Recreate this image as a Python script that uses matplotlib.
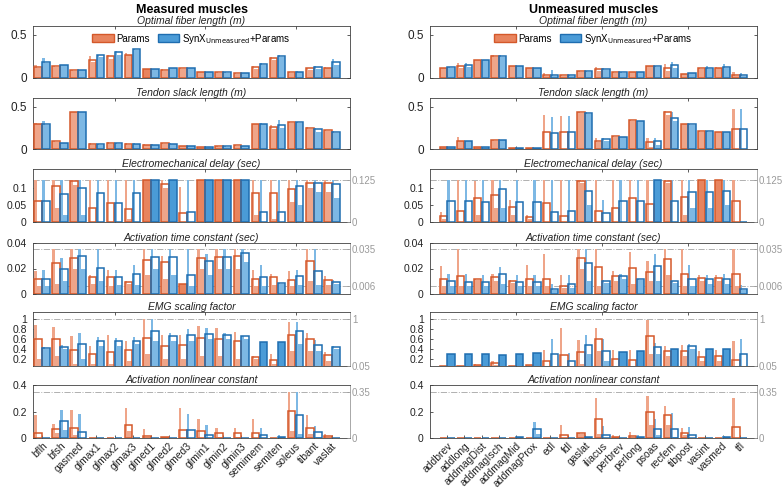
import matplotlib
matplotlib.use('Agg')
import matplotlib.pyplot as plt
from matplotlib.patches import Patch

plt.rcParams['font.family'] = ['Liberation Sans', 'DejaVu Sans']

# ---------------- categories ----------------
left_muscles = ['bflh', 'bfsh', 'gasmed', 'glmax1', 'glmax2', 'glmax3', 'glmed1', 'glmed2',
                'glmed3', 'glmin1', 'glmin2', 'glmin3', 'semimem', 'semiten', 'soleus',
                'tibant', 'vaslat']
right_muscles = ['addbrev', 'addlong', 'addmagDist', 'addmagIsch', 'addmagMid', 'addmagProx',
                 'edl', 'fdl', 'gaslat', 'iliacus', 'perbrev', 'perlong', 'psoas', 'recfem',
                 'tibpost', 'vasint', 'vasmed', 'tfl']

panel_titles = ['Optimal fiber length (m)', 'Tendon slack length (m)',
                'Electromechanical delay (sec)', 'Activation time constant (sec)',
                'EMG scaling factor', 'Activation nonlinear constant']
bounds = [None, None, (0, 0.125), (0.006, 0.035), (0.05, 1), (0, 0.35)]

# ---------------- Measured muscles (left) ----------------
# mean = outlined bar, hi = largest subject value, lo = smallest subject value
L_fiber_p = [0.13, 0.14, 0.087, 0.21, 0.25, 0.27, 0.10, 0.09, 0.11, 0.07, 0.065, 0.055, 0.13, 0.23, 0.065, 0.11, 0.12]
L_fiber_p_hi = [0.15, 0.14, 0.09, 0.25, 0.27, 0.29, 0.10, 0.10, 0.11, 0.07, 0.065, 0.055, 0.14, 0.24, 0.07, 0.12, 0.13]
L_fiber_p_lo = [0.11, 0.13, 0.08, 0.18, 0.22, 0.26, 0.10, 0.085, 0.105, 0.065, 0.06, 0.05, 0.10, 0.21, 0.06, 0.09, 0.11]
L_fiber_s = [0.19, 0.15, 0.095, 0.265, 0.30, 0.33, 0.105, 0.115, 0.12, 0.075, 0.065, 0.06, 0.16, 0.255, 0.075, 0.125, 0.18]
L_fiber_s_hi = [0.23, 0.15, 0.095, 0.27, 0.31, 0.34, 0.105, 0.12, 0.12, 0.075, 0.065, 0.06, 0.17, 0.26, 0.08, 0.14, 0.22]
L_fiber_s_lo = [0.17, 0.145, 0.09, 0.24, 0.27, 0.32, 0.10, 0.11, 0.115, 0.07, 0.06, 0.055, 0.15, 0.24, 0.07, 0.10, 0.15]

L_tendon_p = [0.30, 0.09, 0.44, 0.06, 0.065, 0.06, 0.05, 0.065, 0.04, 0.02, 0.03, 0.045, 0.30, 0.26, 0.32, 0.25, 0.22]
L_tendon_p_hi = [0.31, 0.10, 0.44, 0.07, 0.08, 0.07, 0.055, 0.065, 0.04, 0.02, 0.03, 0.045, 0.30, 0.28, 0.32, 0.26, 0.22]
L_tendon_p_lo = [0.29, 0.08, 0.43, 0.05, 0.055, 0.05, 0.045, 0.06, 0.035, 0.018, 0.028, 0.04, 0.29, 0.24, 0.31, 0.23, 0.21]
L_tendon_s = [0.295, 0.075, 0.435, 0.055, 0.065, 0.06, 0.05, 0.06, 0.04, 0.02, 0.03, 0.035, 0.30, 0.28, 0.32, 0.23, 0.20]
L_tendon_s_hi = [0.33, 0.075, 0.44, 0.055, 0.075, 0.065, 0.055, 0.065, 0.04, 0.02, 0.03, 0.035, 0.31, 0.34, 0.32, 0.25, 0.21]
L_tendon_s_lo = [0.28, 0.07, 0.43, 0.05, 0.06, 0.055, 0.045, 0.055, 0.035, 0.018, 0.028, 0.03, 0.29, 0.25, 0.31, 0.20, 0.19]

L_emd_p = [0.062, 0.107, 0.12, 0.04, 0.056, 0.038, 0.125, 0.113, 0.027, 0.125, 0.125, 0.125, 0.085, 0.087, 0.098, 0.117, 0.115]
L_emd_p_hi = [0.125, 0.125, 0.125, 0.125, 0.125, 0.125, 0.125, 0.125, 0.105, 0.125, 0.125, 0.125, 0.125, 0.125, 0.125, 0.125, 0.125]
L_emd_p_lo = [0.0, 0.04, 0.11, 0.0, 0.0, 0.01, 0.125, 0.10, 0.0, 0.125, 0.125, 0.125, 0.02, 0.01, 0.06, 0.10, 0.09]
L_emd_s = [0.062, 0.082, 0.102, 0.085, 0.056, 0.085, 0.125, 0.125, 0.03, 0.125, 0.125, 0.125, 0.03, 0.03, 0.108, 0.117, 0.113]
L_emd_s_hi = [0.125, 0.125, 0.125, 0.125, 0.125, 0.125, 0.125, 0.125, 0.125, 0.125, 0.125, 0.125, 0.125, 0.125, 0.125, 0.125, 0.125]
L_emd_s_lo = [0.0, 0.02, 0.02, 0.0, 0.0, 0.0, 0.125, 0.125, 0.0, 0.125, 0.125, 0.125, 0.0, 0.0, 0.05, 0.09, 0.07]

L_atc_p = [0.0115, 0.024, 0.028, 0.013, 0.0135, 0.0095, 0.027, 0.025, 0.0075, 0.028, 0.029, 0.030, 0.0115, 0.0135, 0.011, 0.026, 0.011]
L_atc_p_hi = [0.018, 0.035, 0.035, 0.015, 0.019, 0.010, 0.035, 0.030, 0.0075, 0.035, 0.035, 0.035, 0.019, 0.016, 0.018, 0.035, 0.014]
L_atc_p_lo = [0.006, 0.008, 0.020, 0.008, 0.006, 0.008, 0.015, 0.012, 0.0075, 0.020, 0.020, 0.020, 0.006, 0.007, 0.006, 0.010, 0.007]
L_atc_s = [0.0115, 0.020, 0.030, 0.0205, 0.013, 0.0155, 0.029, 0.029, 0.015, 0.026, 0.029, 0.032, 0.013, 0.009, 0.0145, 0.018, 0.0095]
L_atc_s_hi = [0.019, 0.028, 0.035, 0.035, 0.019, 0.023, 0.035, 0.035, 0.035, 0.031, 0.035, 0.035, 0.023, 0.009, 0.019, 0.035, 0.011]
L_atc_s_lo = [0.006, 0.010, 0.020, 0.010, 0.007, 0.007, 0.020, 0.015, 0.006, 0.015, 0.020, 0.025, 0.006, 0.008, 0.007, 0.007, 0.008]

L_emg_p = [0.61, 0.60, 0.37, 0.29, 0.34, 0.37, 0.63, 0.46, 0.47, 0.62, 0.59, 0.56, 0.23, 0.17, 0.68, 0.60, 0.27]
L_emg_p_hi = [0.88, 0.85, 0.66, 0.46, 0.69, 0.56, 1.0, 0.68, 0.68, 0.87, 0.83, 0.75, 0.25, 0.29, 0.95, 0.73, 0.34]
L_emg_p_lo = [0.2, 0.25, 0.1, 0.1, 0.1, 0.15, 0.3, 0.2, 0.2, 0.25, 0.25, 0.2, 0.2, 0.1, 0.35, 0.35, 0.15]
L_emg_s = [0.42, 0.44, 0.49, 0.56, 0.55, 0.56, 0.77, 0.66, 0.68, 0.71, 0.69, 0.66, 0.54, 0.54, 0.77, 0.48, 0.44]
L_emg_s_hi = [0.43, 0.47, 0.73, 0.64, 0.62, 0.64, 1.0, 0.73, 0.81, 0.83, 0.72, 0.67, 0.54, 0.54, 0.95, 0.58, 0.46]
L_emg_s_lo = [0.40, 0.40, 0.20, 0.45, 0.45, 0.50, 0.55, 0.55, 0.55, 0.60, 0.60, 0.60, 0.54, 0.54, 0.50, 0.35, 0.40]

L_anc_p = [0.04, 0.07, 0.075, 0.002, 0.002, 0.10, 0.018, 0.008, 0.063, 0.05, 0.035, 0.038, 0.037, 0.002, 0.205, 0.075, 0.012]
L_anc_p_hi = [0.17, 0.105, 0.21, 0.002, 0.002, 0.225, 0.07, 0.01, 0.225, 0.145, 0.075, 0.075, 0.145, 0.002, 0.35, 0.17, 0.03]
L_anc_p_lo = [0.0, 0.04, 0.02, 0.0, 0.0, 0.05, 0.0, 0.0, 0.0, 0.0, 0.01, 0.005, 0.0, 0.0, 0.05, 0.03, 0.0]
L_anc_s = [0.002, 0.125, 0.045, 0.002, 0.002, 0.002, 0.002, 0.002, 0.063, 0.02, 0.002, 0.002, 0.02, 0.005, 0.17, 0.045, 0.002]
L_anc_s_hi = [0.002, 0.21, 0.18, 0.002, 0.002, 0.002, 0.002, 0.002, 0.18, 0.095, 0.002, 0.002, 0.075, 0.02, 0.35, 0.09, 0.002]
L_anc_s_lo = [0.0, 0.06, 0.0, 0.0, 0.0, 0.0, 0.0, 0.0, 0.0, 0.0, 0.0, 0.0, 0.0, 0.0, 0.03, 0.01, 0.0]

# ---------------- Unmeasured muscles (right) ----------------
R_fiber_p = [0.12, 0.14, 0.21, 0.25, 0.14, 0.115, 0.04, 0.03, 0.08, 0.10, 0.065, 0.075, 0.14, 0.11, 0.05, 0.11, 0.12, 0.035]
R_fiber_p_hi = [0.12, 0.17, 0.21, 0.26, 0.14, 0.115, 0.06, 0.03, 0.08, 0.13, 0.065, 0.075, 0.14, 0.16, 0.05, 0.115, 0.125, 0.07]
R_fiber_p_lo = [0.115, 0.12, 0.205, 0.245, 0.135, 0.11, 0.02, 0.025, 0.075, 0.08, 0.06, 0.07, 0.135, 0.08, 0.045, 0.10, 0.11, 0.02]
R_fiber_s = [0.125, 0.15, 0.21, 0.25, 0.14, 0.115, 0.04, 0.03, 0.08, 0.10, 0.065, 0.075, 0.135, 0.15, 0.06, 0.12, 0.13, 0.03]
R_fiber_s_hi = [0.125, 0.17, 0.21, 0.26, 0.14, 0.115, 0.09, 0.04, 0.08, 0.11, 0.065, 0.075, 0.14, 0.19, 0.06, 0.14, 0.16, 0.06]
R_fiber_s_lo = [0.12, 0.13, 0.205, 0.245, 0.135, 0.11, 0.02, 0.025, 0.075, 0.09, 0.06, 0.07, 0.13, 0.12, 0.055, 0.10, 0.11, 0.02]

R_tendon_p = [0.025, 0.10, 0.025, 0.105, 0.012, 0.01, 0.20, 0.195, 0.43, 0.10, 0.15, 0.34, 0.08, 0.43, 0.30, 0.21, 0.205, 0.23]
R_tendon_p_hi = [0.025, 0.14, 0.025, 0.105, 0.012, 0.01, 0.40, 0.39, 0.43, 0.13, 0.15, 0.34, 0.13, 0.45, 0.30, 0.21, 0.205, 0.47]
R_tendon_p_lo = [0.02, 0.09, 0.02, 0.10, 0.01, 0.008, 0.0, 0.0, 0.42, 0.08, 0.145, 0.335, 0.02, 0.40, 0.295, 0.205, 0.20, 0.0]
R_tendon_s = [0.02, 0.095, 0.025, 0.11, 0.012, 0.01, 0.19, 0.195, 0.42, 0.12, 0.145, 0.335, 0.09, 0.37, 0.29, 0.21, 0.20, 0.23]
R_tendon_s_hi = [0.02, 0.10, 0.025, 0.11, 0.012, 0.01, 0.38, 0.39, 0.43, 0.13, 0.145, 0.335, 0.13, 0.43, 0.29, 0.21, 0.205, 0.47]
R_tendon_s_lo = [0.018, 0.09, 0.02, 0.105, 0.01, 0.008, 0.0, 0.0, 0.41, 0.10, 0.14, 0.33, 0.05, 0.33, 0.285, 0.205, 0.195, 0.0]

R_emd_p = [0.018, 0.034, 0.07, 0.08, 0.043, 0.014, 0.055, 0.018, 0.12, 0.032, 0.04, 0.07, 0.054, 0.122, 0.073, 0.125, 0.125, 0.063]
R_emd_p_hi = [0.03, 0.125, 0.12, 0.125, 0.065, 0.02, 0.125, 0.125, 0.125, 0.125, 0.125, 0.125, 0.125, 0.125, 0.125, 0.125, 0.125, 0.125]
R_emd_p_lo = [0.01, 0.0, 0.02, 0.04, 0.02, 0.01, 0.0, 0.0, 0.115, 0.0, 0.0, 0.0, 0.0, 0.115, 0.02, 0.125, 0.125, 0.0]
R_emd_s = [0.062, 0.063, 0.058, 0.097, 0.058, 0.058, 0.03, 0.033, 0.093, 0.026, 0.063, 0.063, 0.125, 0.063, 0.09, 0.09, 0.093, 0.0]
R_emd_s_hi = [0.125, 0.125, 0.125, 0.125, 0.125, 0.125, 0.125, 0.125, 0.125, 0.065, 0.125, 0.125, 0.125, 0.125, 0.125, 0.125, 0.125, 0.0]
R_emd_s_lo = [0.0, 0.0, 0.0, 0.04, 0.0, 0.0, 0.0, 0.0, 0.05, 0.0, 0.0, 0.0, 0.125, 0.0, 0.04, 0.04, 0.05, 0.0]

R_atc_p = [0.0115, 0.0145, 0.012, 0.013, 0.0105, 0.0115, 0.0115, 0.006, 0.028, 0.0215, 0.014, 0.0205, 0.017, 0.0275, 0.016, 0.0125, 0.0125, 0.0155]
R_atc_p_hi = [0.022, 0.035, 0.012, 0.016, 0.011, 0.023, 0.031, 0.015, 0.035, 0.035, 0.018, 0.033, 0.026, 0.035, 0.035, 0.015, 0.015, 0.035]
R_atc_p_lo = [0.006, 0.006, 0.011, 0.010, 0.009, 0.006, 0.006, 0.005, 0.020, 0.006, 0.010, 0.008, 0.010, 0.015, 0.006, 0.010, 0.010, 0.006]
R_atc_s = [0.010, 0.0095, 0.0095, 0.0155, 0.0095, 0.0095, 0.004, 0.0075, 0.0245, 0.0105, 0.014, 0.012, 0.022, 0.010, 0.0115, 0.012, 0.012, 0.004]
R_atc_s_hi = [0.0155, 0.0155, 0.015, 0.021, 0.015, 0.015, 0.008, 0.015, 0.035, 0.011, 0.016, 0.012, 0.031, 0.010, 0.023, 0.015, 0.016, 0.007]
R_atc_s_lo = [0.006, 0.006, 0.006, 0.008, 0.006, 0.006, 0.003, 0.005, 0.010, 0.009, 0.012, 0.011, 0.010, 0.009, 0.006, 0.008, 0.008, 0.003]

R_emg_p = [0.05, 0.06, 0.08, 0.12, 0.05, 0.08, 0.16, 0.27, 0.33, 0.60, 0.19, 0.18, 0.66, 0.36, 0.36, 0.24, 0.25, 0.18]
R_emg_p_hi = [0.05, 0.06, 0.09, 0.16, 0.05, 0.08, 0.37, 0.83, 0.57, 0.82, 0.37, 0.38, 0.99, 0.45, 0.47, 0.36, 0.37, 0.55]
R_emg_p_lo = [0.05, 0.05, 0.07, 0.08, 0.05, 0.07, 0.05, 0.05, 0.10, 0.35, 0.05, 0.05, 0.30, 0.25, 0.25, 0.15, 0.15, 0.05]
R_emg_s = [0.29, 0.29, 0.29, 0.28, 0.29, 0.32, 0.29, 0.16, 0.47, 0.36, 0.33, 0.35, 0.43, 0.40, 0.46, 0.40, 0.40, 0.30]
R_emg_s_hi = [0.29, 0.29, 0.29, 0.28, 0.29, 0.32, 0.59, 0.32, 0.69, 0.60, 0.33, 0.35, 0.52, 0.40, 0.50, 0.40, 0.40, 0.60]
R_emg_s_lo = [0.29, 0.29, 0.29, 0.28, 0.29, 0.32, 0.05, 0.05, 0.30, 0.15, 0.33, 0.35, 0.30, 0.40, 0.40, 0.40, 0.40, 0.05]

R_anc_p = [0, 0, 0, 0, 0, 0, 0, 0.025, 0.035, 0.14, 0.008, 0.012, 0.195, 0.17, 0.04, 0, 0, 0.08]
R_anc_p_hi = [0, 0, 0, 0, 0, 0, 0, 0.10, 0.04, 0.30, 0.02, 0.045, 0.32, 0.245, 0.075, 0, 0, 0.30]
R_anc_p_lo = [0, 0, 0, 0, 0, 0, 0, 0, 0.03, 0.03, 0, 0, 0.10, 0.10, 0.02, 0, 0, 0]
R_anc_s = [0, 0, 0, 0, 0.005, 0.07, 0, 0, 0.005, 0.025, 0, 0.01, 0.065, 0.065, 0.02, 0, 0.005, 0]
R_anc_s_hi = [0, 0, 0, 0, 0.01, 0.12, 0, 0, 0.005, 0.09, 0, 0.02, 0.14, 0.19, 0.08, 0, 0.015, 0]
R_anc_s_lo = [0, 0, 0, 0, 0, 0.03, 0, 0, 0.005, 0, 0, 0, 0.02, 0.01, 0, 0, 0, 0]

left_panels = [
    (L_fiber_p, L_fiber_p_hi, L_fiber_p_lo, L_fiber_s, L_fiber_s_hi, L_fiber_s_lo),
    (L_tendon_p, L_tendon_p_hi, L_tendon_p_lo, L_tendon_s, L_tendon_s_hi, L_tendon_s_lo),
    (L_emd_p, L_emd_p_hi, L_emd_p_lo, L_emd_s, L_emd_s_hi, L_emd_s_lo),
    (L_atc_p, L_atc_p_hi, L_atc_p_lo, L_atc_s, L_atc_s_hi, L_atc_s_lo),
    (L_emg_p, L_emg_p_hi, L_emg_p_lo, L_emg_s, L_emg_s_hi, L_emg_s_lo),
    (L_anc_p, L_anc_p_hi, L_anc_p_lo, L_anc_s, L_anc_s_hi, L_anc_s_lo),
]
right_panels = [
    (R_fiber_p, R_fiber_p_hi, R_fiber_p_lo, R_fiber_s, R_fiber_s_hi, R_fiber_s_lo),
    (R_tendon_p, R_tendon_p_hi, R_tendon_p_lo, R_tendon_s, R_tendon_s_hi, R_tendon_s_lo),
    (R_emd_p, R_emd_p_hi, R_emd_p_lo, R_emd_s, R_emd_s_hi, R_emd_s_lo),
    (R_atc_p, R_atc_p_hi, R_atc_p_lo, R_atc_s, R_atc_s_hi, R_atc_s_lo),
    (R_emg_p, R_emg_p_hi, R_emg_p_lo, R_emg_s, R_emg_s_hi, R_emg_s_lo),
    (R_anc_p, R_anc_p_hi, R_anc_p_lo, R_anc_s, R_anc_s_hi, R_anc_s_lo),
]

# ---------------- style ----------------
OR_FACE, OR_LIGHT, OR_EDGE = '#E8845E', '#EFA589', '#D4582A'
BL_FACE, BL_LIGHT, BL_EDGE = '#4A9BD7', '#7DB8E4', '#1E6DB0'
AX_COL = '#404040'
GRAY = '#9a9a9a'

ylims = [(0, 0.6), (0, 0.6), (0, 0.157), (0, 0.04), (0.05, 1.15), (0, 0.4)]
yticks = [[0, 0.5], [0, 0.5], [0, 0.05, 0.1], [0, 0.02, 0.04],
          [0.2, 0.4, 0.6, 0.8, 1], [0, 0.2, 0.4]]
ytlabels = [['0', '0.5'], ['0', '0.5'], ['0', '0.05', '0.1'], ['0', '0.02', '0.04'],
            ['0.2', '0.4', '0.6', '0.8', '1'], ['0', '0.2', '0.4']]
ylabsize = [8.5, 8.5, 7.5, 7.5, 7.5, 7.5]

W, H = 784, 488
fig = plt.figure(figsize=(W / 100, H / 100), dpi=100)
rows = [(26, 78), (98, 149), (169, 222), (243, 294), (312, 366), (385, 438)]
cols = [(33, 350), (430, 757)]
xlims = [(0.5, 18.0), (0.0, 19.0)]

BW = 0.42


def draw_bar(ax, x0, mean, hi, lo, face, light, edge):
    same = abs(hi - lo) < 1e-9
    if same:
        ax.bar(x0, mean, width=BW, align='edge', color=face, edgecolor='none', zorder=2)
    else:
        ax.bar(x0, hi, width=0.3 * BW, align='edge', color=light, edgecolor='none', zorder=2)
        ax.bar(x0 + 0.3 * BW, lo, width=0.7 * BW, align='edge', color=light,
               edgecolor='none', zorder=2)
    ax.bar(x0, mean, width=BW, align='edge', fill=False, edgecolor=edge,
           linewidth=1.1, zorder=3)


for c, (muscles, panels) in enumerate([(left_muscles, left_panels), (right_muscles, right_panels)]):
    x0p, x1p = cols[c]
    n = len(muscles)
    pos = list(range(1, n + 1))
    for r, data in enumerate(panels):
        top, bot = rows[r]
        ax = fig.add_axes([x0p / W, 1 - bot / H, (x1p - x0p) / W, (bot - top) / H])
        pm, ph, pl, sm, sh, sl = data
        for i, xc in enumerate(pos):
            draw_bar(ax, xc - 0.01 - BW, pm[i], ph[i], pl[i], OR_FACE, OR_LIGHT, OR_EDGE)
            draw_bar(ax, xc + 0.01, sm[i], sh[i], sl[i], BL_FACE, BL_LIGHT, BL_EDGE)
        ax.set_xlim(*xlims[c])
        ax.set_ylim(*ylims[r])
        ax.set_yticks(yticks[r])
        ax.set_yticklabels(ytlabels[r])
        for s in ax.spines.values():
            s.set_color(AX_COL)
            s.set_linewidth(0.6)
        ax.tick_params(axis='both', direction='in', length=2.5, width=0.6, colors=AX_COL,
                       labelsize=7.5, labelcolor='#222222', pad=2)
        ax.tick_params(axis='y', labelsize=ylabsize[r], pad=4.5)
        ax.set_title(panel_titles[r], fontsize=7.5, style='italic', pad=1.5, color='#222222')
        if r == 5:
            ax.set_xticks(pos)
            ax.set_xticklabels(muscles, rotation=45, ha='right', rotation_mode='anchor',
                               fontsize=7.5)
            ax.tick_params(axis='x', top=False, pad=2)
        else:
            ax.set_xticks([5, 10, 15])
            ax.set_xticklabels([])
            ax.tick_params(axis='x', top=True)
        if bounds[r] is None:
            ax.tick_params(axis='y', right=True)
        else:
            lo_b, hi_b = bounds[r]
            ax.axhline(hi_b, ls='-.', color='#b0b0b0', lw=0.7, zorder=1)
            ax.axhline(lo_b, ls='-.', color='#b0b0b0', lw=0.7, zorder=1)
            ax2 = ax.twinx()
            ax2.set_ylim(*ylims[r])
            ax2.set_yticks([lo_b, hi_b])
            ax2.set_yticklabels([('%g' % lo_b), ('%g' % hi_b)])
            ax2.tick_params(axis='y', direction='in', length=2.5, width=0.6, colors=GRAY,
                            labelsize=7, labelcolor=GRAY, pad=1.5)
            for s in ax2.spines.values():
                s.set_visible(False)
            ax.spines['right'].set_color(GRAY)
        if r == 0:
            handles = [Patch(facecolor=OR_FACE, edgecolor=OR_EDGE, label='Params'),
                       Patch(facecolor=BL_FACE, edgecolor=BL_EDGE,
                             label='SynX$_{\\mathrm{Unmeasured}}$+Params')]
            ax.legend(handles=handles, loc='upper center', ncol=2, frameon=False,
                      fontsize=7, handlelength=2.2, handleheight=0.9, columnspacing=0.8,
                      handletextpad=0.3, bbox_to_anchor=(0.5, 1.06))

fig.text((33 + 350) / 2 / W, 1 - 10 / H, 'Measured muscles', ha='center', va='center',
         fontsize=9, fontweight='bold')
fig.text((430 + 757) / 2 / W, 1 - 10 / H, 'Unmeasured muscles', ha='center', va='center',
         fontsize=9, fontweight='bold')

fig.savefig('out.png', dpi=100)
